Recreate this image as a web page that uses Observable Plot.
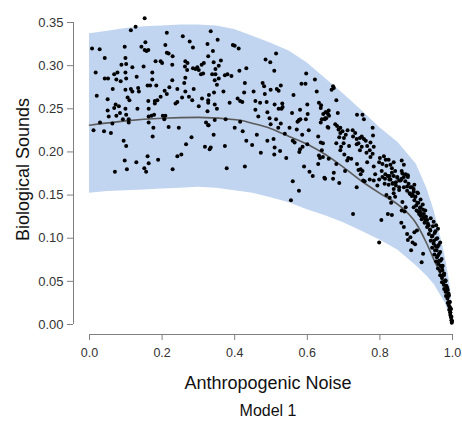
<!DOCTYPE html>
<html><head><meta charset="utf-8">
<script src="https://cdn.jsdelivr.net/npm/d3@7"></script>
<script src="https://cdn.jsdelivr.net/npm/@observablehq/plot@0.6"></script>
<style>body{margin:0;background:#fff}#chart{width:462px;height:428px}</style>
</head><body><div id="chart"></div>
<script>
const xTicks = [0, 0.2, 0.4, 0.6, 0.8, 1.0];
const yTicks = [0, 0.05, 0.10, 0.15, 0.20, 0.25, 0.30, 0.35];

const ribbonX     = [0, .05, .10, .15, .20, .25, .30, .35, .40, .45, .50, .55, .60, .65, .70, .75, .80, .85, .90, .93, .95, .97, .98, .99, .995, 1.0];
const ribbonUpper = [.337,.340,.343,.345,.346,.347,.347,.346,.342,.334,.326,.317,.303,.285,.267,.248,.228,.211,.186,.157,.131,.097,.078,.055,.040,.005];
const ribbonLower = [.152,.154,.155,.156,.157,.158,.159,.158,.155,.152,.147,.141,.133,.126,.118,.108,.098,.086,.068,.056,.046,.032,.025,.013,.007,.003];

const fitX = [0, .10, .20, .30, .41, .45, .50, .55, .60, .65, .70, .75, .80, .85, .90, .93, .95, .97, .98, .99, 1.0];
const fitY = [.231,.236,.239,.240,.237,.233,.227,.218,.209,.197,.182,.166,.152,.139,.117,.093,.074,.055,.040,.022,.003];

// observed points (noise, biological)
const obsX = [
 .152,.127,.114,.007,.028,.097,.154,.143,.152,.162,.157,.213,.257,.209,.276,.285,.213,.218,.229,.042,.099,.182,.196,.200,.088,.101,.118,.149,.228,.264,.270,.263,.285,.297,.301,.309,.315,.307,.313,.292,.269,.017,.068,.077,.099,.173,.130,.042,.051,.074,.086,.101,.173,.228,.261,.264,.064,.114,.134,.136,.160,.167,.184,.207,.220,.242,.099,.118,.264,.287,.020,.050,.105,.110,.196,.213,.187,.180,.162,.237,.242,.255,.274,.283,.310,.327,.081,.072,.099,.132,.163,.180,.301,
 .050,.068,.053,.074,.084,.101,.092,.108,.108,.063,.029,.163,.171,.178,.202,.209,.206,.163,.218,.246,.176,.321,.328,.011,.040,.059,.174,.281,.094,.101,.266,.318,.331,.160,.242,.253,.189,.097,.129,.163,.103,.151,.156,.070,.229,
 .334,.353,.325,.395,.400,.411,.340,.327,.342,.356,.362,.347,.514,.485,.498,.509,.432,.413,.338,.347,.356,.345,.373,.380,.391,.351,.597,.621,.428,.477,.481,.499,.516,.521,.527,.584,.595,.626,.329,.343,.369,.426,.452,.483,.562,.408,.415,.421,.457,.470,.488,.510,.531,.532,.521,.600,.632,.637,.327,.345,.386,.351,.457,.529,.580,
 .325,.490,.558,.650,.659,.327,.345,.375,.415,.400,.422,.465,.496,.499,.514,.527,.520,.551,.573,.577,.571,.586,.604,.637,.648,.652,.656,.657,.342,.461,.538,.432,.490,.507,.448,.510,.334,.373,.630,.637,.560,.580,.600,.472,.509,.525,.542,.632,.635,.643,.659,.630,.378,.428,.591,.606,.615,.647,.560,.577,.555,
 .673,.680,.638,.653,.660,.684,.658,.737,.752,.756,.677,.682,.686,.691,.697,.706,.711,.701,.688,.691,.725,.732,.726,.736,.745,.750,.756,.761,.741,.780,.781,.680,.700,.643,.691,.702,.693,.736,.745,.750,.765,.774,.772,.780,.783,.763,
 .800,.811,.816,.824,.798,.807,.818,.829,.833,.838,.860,.866,.860,.805,.815,.827,.833,.842,.848,.826,.835,.844,.853,.860,.870,.875,.884,.893,.882,.888,.903,.895,.853,.838,.871,.877,
 .715,.721,.713,.737,.741,.747,.752,.765,.774,.783,.787,.798,.793,.772,.783,.747,.754,.758,.736,
 .640,.649,.673,.671,.688,.680,.710,.704,
 .671,.667,.644,.640,.649,.576,.581,.596,.601,.565,.587,.578,
 .726,.804,.798,
 .807,.814,.822,.829,.838,.848,.857,.866,.877,.862,
 .813,.824,.835,.844,.853,.838,.866,.875,.879,.888,.893,.884,
 .818,.827,.842,.831,.822,.833,.862,.871,.860,.868,
 .897,.903,.893,.901,.912,.919,.908,.915,.927,.921,.910,.930,.923,.934,
 .859,.866,.875,.877,.884,.895,.890,.897,.886,.919,.915,.902,
 .939,.945,.949,.953,.956,.960,.963,.967,.972,.976,.980,.983,.987,.989,.991,.993,.994,.996,.998,
 .925,.932,.940,.948,.955, .930,.938,.946,.953,.960, .935,.943,.951,.958, .940,.948,.955,.962,.966, .944,.952,.959,.966,
 .950,.957,.963,.970, .955,.961,.967,.973, .960,.966,.971,.977, .966,.971,.976,.981, .971,.976,.980,.985, .977,.981,.985,.989,
 .982,.986,.990, .987,.990,.993, .991,.994,.996, .994,.997, .997,.999,
 .890,.898,.905, .895,.906,.912, .900,.910,.918, .905,.915,.925, .912,.920
];
const obsY = [
 .355,.345,.341,.320,.319,.322,.327,.322,.318,.318,.317,.338,.334,.324,.328,.321,.315,.314,.311,.309,.309,.305,.305,.303,.301,.302,.298,.299,.301,.305,.303,.299,.297,.298,.295,.301,.303,.290,.291,.296,.295,.292,.290,.292,.292,.292,.287,.285,.285,.284,.282,.285,.284,.283,.280,.286,.273,.273,.274,.270,.277,.277,.277,.271,.275,.273,.272,.270,.270,.273,.265,.261,.263,.260,.264,.267,.260,.259,.259,.256,.258,.263,.264,.260,.262,.260,.253,.255,.250,.250,.250,.256,.253,
 .248,.251,.241,.242,.245,.243,.238,.238,.234,.233,.234,.241,.242,.243,.242,.242,.238,.234,.229,.228,.228,.234,.231,.225,.224,.222,.218,.217,.213,.207,.209,.206,.203,.195,.195,.197,.191,.190,.188,.187,.180,.181,.177,.177,.180,
 .340,.330,.325,.324,.323,.320,.317,.311,.304,.300,.306,.296,.314,.307,.304,.294,.297,.294,.290,.290,.285,.283,.289,.290,.288,.278,.291,.284,.280,.280,.276,.272,.273,.271,.277,.279,.279,.270,.266,.269,.270,.269,.270,.267,.266,.262,.259,.258,.259,.257,.258,.255,.256,.252,.250,.255,.257,.251,.257,.255,.257,.250,.249,.250,.249,
 .247,.246,.245,.246,.248,.231,.237,.238,.235,.228,.224,.241,.239,.232,.238,.233,.228,.228,.235,.237,.226,.220,.225,.234,.238,.239,.229,.244,.220,.220,.221,.213,.213,.215,.208,.205,.205,.207,.218,.211,.213,.203,.209,.199,.197,.201,.193,.196,.193,.194,.192,.186,.181,.183,.183,.177,.172,.170,.166,.155,.144,
 .274,.260,.254,.246,.242,.245,.228,.243,.243,.238,.232,.230,.226,.228,.224,.220,.225,.216,.217,.222,.225,.222,.218,.215,.216,.218,.215,.213,.210,.228,.219,.210,.210,.210,.202,.197,.206,.209,.202,.206,.207,.211,.202,.198,.206,.199,
 .193,.195,.191,.191,.188,.186,.184,.185,.181,.188,.190,.185,.178,.178,.174,.172,.176,.178,.171,.168,.164,.161,.167,.169,.166,.160,.159,.157,.152,.149,.153,.162,.156,.152,.174,.171,
 .207,.192,.193,.186,.179,.180,.178,.188,.194,.183,.174,.168,.161,.168,.167,.174,.167,.166,.159,
 .202,.169,.176,.169,.164,.186,.190,.178,
 .276,.272,.244,.238,.239,.236,.238,.238,.244,.211,.206,.200,
 .128,.121,.095,
 .171,.169,.172,.168,.172,.170,.167,.171,.173,.175,
 .163,.162,.163,.165,.159,.157,.159,.155,.163,.159,.154,.151,
 .150,.147,.148,.141,.128,.127,.142,.136,.132,.131,
 .148,.141,.136,.132,.136,.133,.128,.122,.125,.128,.131,.121,.118,.115,
 .118,.113,.105,.098,.101,.107,.095,.093,.086,.082,.072,.109,
 .109,.103,.097,.091,.086,.080,.074,.068,.063,.057,.051,.045,.040,.033,.026,.020,.014,.008,.002,
 .121,.117,.123,.119,.115, .113,.110,.114,.108,.111, .105,.102,.106,.100, .097,.094,.099,.092,.095, .089,.086,.090,.084,
 .081,.078,.082,.076, .073,.070,.074,.068, .065,.062,.066,.059, .057,.054,.058,.051, .049,.046,.050,.043, .041,.038,.042,.036,
 .033,.030,.034, .025,.022,.026, .017,.014,.018, .011,.009, .005,.004,
 .151,.148,.152, .144,.141,.145, .138,.135,.139, .131,.128,.132, .126,.124
];

const xTitle = "Anthropogenic Noise";
const yTitle = "Biological Sounds";
const caption = "Model 1";

const ribbon = ribbonX.map((x, i) => ({x, lo: ribbonLower[i], hi: ribbonUpper[i]}));
const fit = fitX.map((x, i) => ({x, y: fitY[i]}));
const obs = obsX.map((x, i) => ({x, y: obsY[i]}));

const font = "'Liberation Sans', Arial, Helvetica, sans-serif";
const plot = Plot.plot({
  width: 462, height: 428,
  marginLeft: 89, marginRight: 10, marginTop: 22, marginBottom: 104,
  x: {domain: [0, 1]},
  y: {domain: [0, 0.35]},
  style: {fontFamily: font, background: "#fff"},
  marks: [
    Plot.areaY(ribbon, {x: "x", y1: "lo", y2: "hi", fill: "#c2d5f0", curve: "linear"}),
    Plot.line(fit, {x: "x", y: "y", stroke: "#5b5b5b", strokeWidth: 1.6, curve: "monotone-x"}),
    Plot.dot(obs, {x: "x", y: "y", r: 2, fill: "#000", stroke: "none"}),
    Plot.ruleX([xTicks[0]], {y1: yTicks[0], y2: yTicks[yTicks.length - 1], dx: -16, stroke: "#808080"}),
    Plot.axisY({ticks: yTicks, tickFormat: d3.format(".2f"), tickSize: 6, tickPadding: 4, dx: -16, fontSize: 13, color: "#333", label: null}),
    Plot.ruleY([yTicks[0]], {x1: xTicks[0], x2: xTicks[xTicks.length - 1], dy: 10, stroke: "#808080"}),
    Plot.axisX({ticks: xTicks, tickFormat: d3.format(".1f"), tickSize: 6, tickPadding: 8, dy: 10, fontSize: 12.5, color: "#333", label: null}),
    Plot.text([xTitle], {text: d => d, frameAnchor: "bottom", lineAnchor: "middle", dx: -3, dy: 59, fontSize: 18, fill: "#111"}),
    Plot.text([caption], {text: d => d, frameAnchor: "bottom", lineAnchor: "middle", dx: -3, dy: 86, fontSize: 16, fill: "#111"}),
    Plot.text([yTitle], {text: d => d, frameAnchor: "left", textAnchor: "middle", lineAnchor: "middle", dx: -66, dy: -4, rotate: -90, fontSize: 18, fill: "#111"})
  ]
});
plot.querySelectorAll('g[aria-label$="axis tick"]').forEach(g => g.setAttribute("stroke", "#808080"));
document.getElementById("chart").appendChild(plot);
</script></body></html>
